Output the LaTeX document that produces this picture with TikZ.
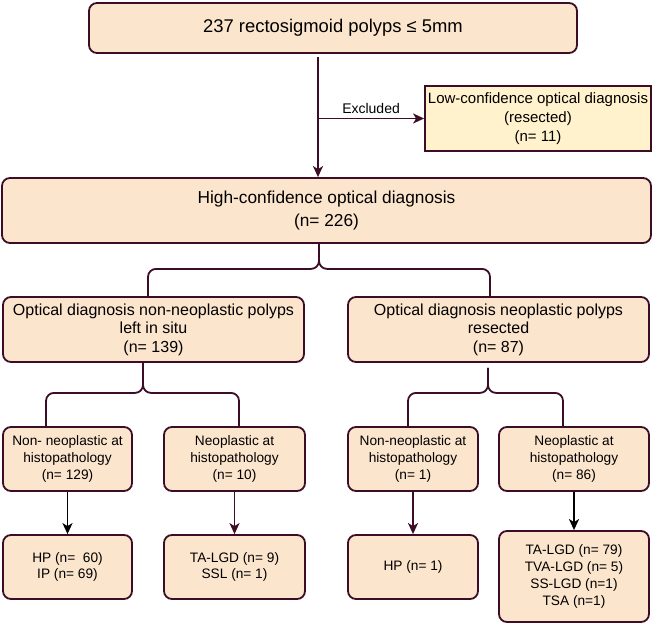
\documentclass[tikz,border=0pt]{standalone}
\usepackage{fontspec}
\setmainfont{Liberation Sans}
\usetikzlibrary{arrows.meta}
\definecolor{boxpeach}{RGB}{252,229,205}
\definecolor{boxyellow}{RGB}{255,242,204}
\definecolor{edgemaroon}{RGB}{61,12,38}

\begin{document}
\begin{tikzpicture}[x=1pt, y=-1pt,
    flowbox/.style={draw=edgemaroon, fill=boxpeach, line width=1.8pt, rounded corners=8pt, align=center, inner sep=0pt},
    lowbox/.style={draw=edgemaroon, fill=boxyellow, line width=1.8pt, align=center, inner sep=0pt},
    midbox/.style={flowbox, minimum width=301pt, minimum height=65pt, font=\fontsize{16}{18.5}\selectfont},
    histbox/.style={flowbox, minimum height=64pt, font=\fontsize{13.7}{16.8}\selectfont},
    link/.style={draw=edgemaroon, line width=1.8pt, rounded corners=8pt},
    arr/.style={link, -{Stealth[length=11pt, width=10pt, inset=3pt]}},
    blackarr/.style={arr, draw=black}]
    \useasboundingbox (0,0) rectangle (653,626);

    % All polyps
    \node[flowbox, minimum width=488pt, minimum height=50pt, font=\fontsize{18.4}{22}\selectfont] (total) at (333,28) {237 rectosigmoid polyps ≤ 5mm};

    % Excluded polyps
    \node[lowbox, minimum width=226pt, minimum height=65pt, font=\fontsize{15}{19}\selectfont] (lowconf) at (538,118.5) {
        Low-confidence optical diagnosis \\
        (resected) \\
        (n= 11)
    };

    % High-confidence polyps
    \node[flowbox, minimum width=649pt, minimum height=65pt, font=\fontsize{17.3}{23}\selectfont] (highconf) at (326.5,210.5) {
        High-confidence optical diagnosis \\
        (n= 226)
    };

    % Optical diagnosis
    \node[midbox] (optnonneo) at (153.5,329.5) {
        Optical diagnosis non-neoplastic polyps \\
        left in situ \\
        (n= 139)
    };
    \node[midbox] (optneo) at (498.5,329.5) {
        Optical diagnosis neoplastic polyps \\
        resected \\
        (n= 87)
    };

    % Histopathology
    \node[histbox, minimum width=129pt] (histleftA) at (67.5,459) {
        Non- neoplastic at \\
        histopathology \\
        (n= 129)
    };
    \node[histbox, minimum width=141pt] (histleftB) at (234.5,459) {
        Neoplastic at \\
        histopathology \\
        (n= 10)
    };
    \node[histbox, minimum width=130pt] (histrightA) at (413,459) {
        Non-neoplastic at \\
        histopathology \\
        (n= 1)
    };
    \node[histbox, minimum width=150pt] (histrightB) at (574,459) {
        Neoplastic at \\
        histopathology \\
        (n= 86)
    };

    % Polyp types
    \node[histbox, minimum width=129pt] (typeleftA) at (67.5,567) {
        HP (n= \ 60) \\
        IP (n= 69)
    };
    \node[histbox, minimum width=141pt] (typeleftB) at (234.5,567) {
        TA-LGD (n= 9) \\
        SSL (n= 1)
    };
    \node[histbox, minimum width=130pt] (typerightA) at (413,567) {HP (n= 1)};
    \node[histbox, minimum width=150pt, minimum height=91pt] (typerightB) at (574,576.5) {
        TA-LGD (n= 79) \\
        TVA-LGD (n= 5) \\
        SS-LGD (n=1) \\
        TSA (n=1)
    };

    % Connectors
    \coordinate (trunk) at ([xshift=-15pt, yshift=-3pt]total.south);
    \coordinate (excl) at (trunk |- lowconf.west);
    \draw[arr] (trunk) -- (trunk |- highconf.north);
    \draw[arr] (excl) -- (lowconf.west)
        node[midway, above=4pt, inner sep=0pt, font=\fontsize{14}{16}\selectfont] {Excluded};

    \coordinate (highfork) at ([xshift=-7.5pt]highconf.south);
    \draw[link] (highfork) -- ++(0,25) -| ([xshift=-5.5pt]optnonneo.north);
    \draw[link] (highfork) -- ++(0,25) -| ([xshift=-8.5pt]optneo.north);

    \coordinate (leftfork) at ([xshift=-10.5pt]optnonneo.south);
    \draw[link] (leftfork) -- ++(0,30) -| ([xshift=-21.5pt]histleftA.north);
    \draw[link] (leftfork) -- ++(0,30) -| ([xshift=4.5pt]histleftB.north);

    \coordinate (rightfork) at ([xshift=-10.5pt, yshift=-5pt]optneo.south);
    \draw[link] (rightfork) -- ++(0,25) -| ([xshift=-5pt]histrightA.north);
    \draw[link] (rightfork) -- ++(0,25) -| ([xshift=-11pt]histrightB.north);

    \draw[blackarr] (histleftA) -- (typeleftA);
    \draw[arr] (histleftB) -- (typeleftB);
    \draw[arr] (histrightA) -- (typerightA);
    \draw[blackarr] (histrightB) -- (typerightB);
\end{tikzpicture}
\end{document}
